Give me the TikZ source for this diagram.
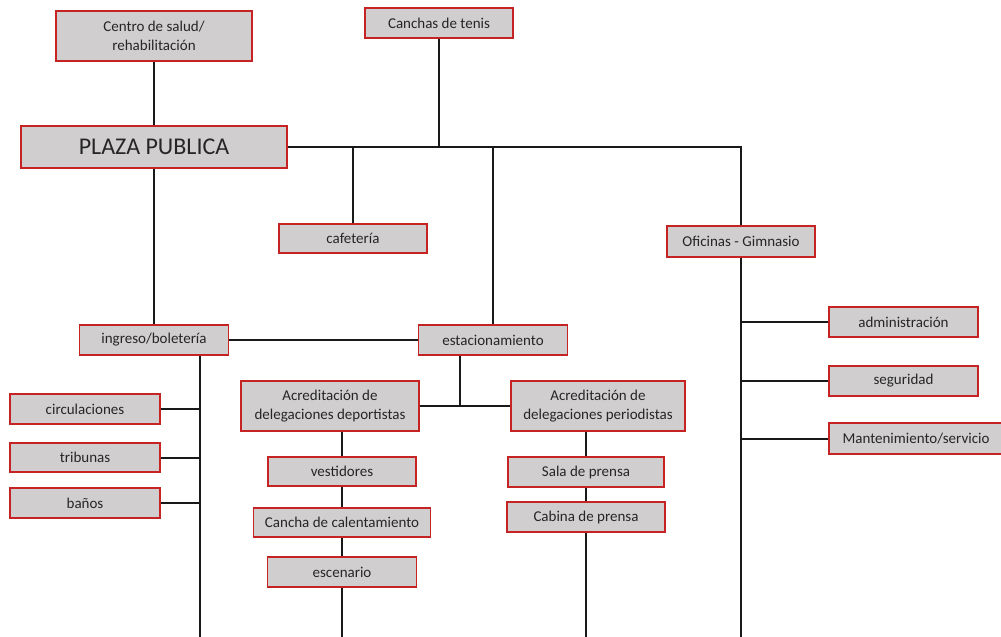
\documentclass[tikz,border=0pt]{standalone}
\usepackage{fontspec}
\setmainfont{Carlito}
\usepackage{xcolor}
\usetikzlibrary{positioning}
\definecolor{boxgray}{RGB}{208,206,206}
\definecolor{boxred}{RGB}{198,36,36}
\definecolor{txtgray}{RGB}{38,38,38}
\tikzset{%
  box/.style={draw=boxred, fill=boxgray, line width=1.1pt, text=txtgray, font=\fontsize{15}{19}\selectfont, align=center, inner sep=0pt, minimum height=30pt},
  bigbox/.style={box, font=\fontsize{24}{28}\selectfont},
  link/.style={line width=2pt, black!90}
}

\begin{document}
\begin{tikzpicture}[x=1pt,y=-1pt]
\useasboundingbox (0,0) rectangle (1001,637);
\coordinate (colL) at (200,637);
\coordinate (colE) at (460,406);
\coordinate (bottom) at (0,637);
\node[box, minimum width=196pt, minimum height=50pt] (centro) at (154,36) {Centro de salud/\\rehabilitación};
\node[box, minimum width=148pt] (canchas) at (439,23) {Canchas de tenis};
\node[bigbox, minimum width=266pt, minimum height=42pt] (plaza) at (154,147) {PLAZA PUBLICA};
\node[box, minimum width=148pt, minimum height=29pt] (caf) at (353,238.5) {cafetería};
\node[box, minimum width=148pt, minimum height=31pt] (ofi) at (741,241.5) {Oficinas - Gimnasio};
\node[box, minimum width=149pt] (ing) at (154,340) {ingreso/boletería};
\node[box, minimum width=149pt] (est) at (493,340) {estacionamiento};
\node[box, minimum width=150pt] (circ) at (85,409) {circulaciones};
\node[box, minimum width=150pt, minimum height=29pt] (trib) at (85,457.5) {tribunas};
\node[box, minimum width=150pt] (ban) at (85,503) {baños};
\node[box, minimum width=178pt, minimum height=50pt] (acd) at (330,406) {Acreditación de\\delegaciones deportistas};
\node[box, minimum width=148pt, minimum height=29pt] (ves) at (342,471.5) {vestidores};
\node[box, minimum width=177pt, minimum height=29pt] (can) at (342,522.5) {Cancha de calentamiento};
\node[box, minimum width=149pt] (esc) at (342,572) {escenario};
\node[box, minimum width=174pt, minimum height=50pt] (acp) at (598,406) {Acreditación de\\delegaciones periodistas};
\node[box, minimum width=156pt] (sala) at (586,472) {Sala de prensa};
\node[box, minimum width=158pt] (cab) at (586,517) {Cabina de prensa};
\node[box, minimum width=149pt] (adm) at (903.5,322) {administración};
\node[box, minimum width=149pt] (seg) at (903.5,381) {seguridad};
\node[box, minimum width=174pt, minimum height=31pt] (man) at (916,438.5) {Mantenimiento/servicio};
\draw[link] (centro) -- (plaza);
\draw[link] (canchas.south) -- (canchas.south |- plaza.east);
\draw[link] (plaza.east) -| (ofi.north);
\draw[link] (caf.north) -- (caf.north |- plaza.east);
\draw[link] (est.north) -- (est.north |- plaza.east);
\draw[link] (plaza) -- (ing);
\draw[link] (ing) -- (est);
\draw[link] (colL |- ing.south) -- (colL);
\draw[link] (circ.east) -- (circ.east -| colL);
\draw[link] (trib.east) -- (trib.east -| colL);
\draw[link] (ban.east) -- (ban.east -| colL);
\draw[link] (colE |- est.south) -- (colE);
\draw[link] (acd.east) -- (acp.west);
\draw[link] (ves.north) -- (ves.north |- acd.south);
\draw[link] (ves) -- (can);
\draw[link] (can) -- (esc);
\draw[link] (esc.south) -- (esc.south |- bottom);
\draw[link] (sala.north) -- (sala.north |- acp.south);
\draw[link] (sala) -- (cab);
\draw[link] (cab.south) -- (cab.south |- bottom);
\draw[link] (ofi.south) -- (ofi.south |- bottom);
\draw[link] (adm.west) -- (adm.west -| ofi.south);
\draw[link] (seg.west) -- (seg.west -| ofi.south);
\draw[link] (man.west) -- (man.west -| ofi.south);
\end{tikzpicture}
\end{document}
